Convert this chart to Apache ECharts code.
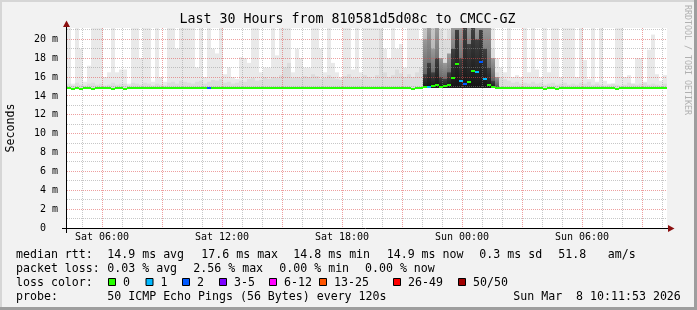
<!DOCTYPE html>
<html><head><meta charset="utf-8">
<script src="https://cdn.jsdelivr.net/npm/echarts@6/dist/echarts.min.js"></script>
<style>html,body{margin:0;padding:0;background:#f2f2f2}#c{width:697px;height:310px}</style>
</head><body><div id="c"></div>
<script>
// ---------------- data (hours since Sat 00:00) ----------------
const startHour = 4.25;        // Sat 04:15
const spanHours = 30;
const bucketHours = 0.2;       // 12 min per smoke column
const smokeFloor = 14.85;
const yMax = 21.2;

// top of the lightest smoke (max ping), ms
const smokeTop = [
 30,15.3,30,19,15.5,17.2,30,30,30,16,
 16.5,30,16.5,16.8,16.8,15.3,30,30,18,30,
 30,15.5,30,16,15.5,30,30,19,30,30,
 30,30,17,30,16,30,19,18.5,30,16.3,
 17,16,15.8,18.1,18,17.5,30,30,16.5,17,
 17,30,18.3,30,30,30,16.5,19,18,17,
 17,30,30,19,16.5,30,17.5,16.5,16,30,
 30,16.8,30,16.5,30,30,30,30,30,19,
 18,30,19,19.5,17,30,30,30,20,30,
 30,30,30,30,30,30,30,30,30,30,
 30,30,30,30,30,30,30,18,17,16.5,
 30,16,16.2,16,30,16.5,30,16.8,16,30,
 16.5,30,30,16,30,30,30,16,30,17.8,
 15.8,30,15.5,30,15.6,15.3,15.3,30,30,16,
 16.2,15.3,18,18,15.5,18.9,20.5,16.3,15.6,16.2
];
// top of second smoke band
const smokeMid = [
 15.3,15.1,15.4,15.2,15.1,15.3,15.4,15.2,15.3,15.1,
 15.2,15.4,15.2,15.3,15.3,15.1,15.4,15.3,15.2,15.4,
 15.3,15.1,15.3,15.2,15.1,15.4,15.5,15.3,15.6,15.5,
 15.4,15.3,15.5,15.6,15.3,15.5,15.7,15.6,15.8,15.4,
 15.5,15.3,15.4,15.6,15.5,15.8,15.9,15.6,15.7,16.0,
 15.8,16.0,15.9,16.2,17.0,17.5,15.9,16.0,15.9,16.1,
 16.0,16.3,16.1,15.8,15.9,16.2,16.0,15.8,15.7,16.1,
 16.3,15.9,16.0,15.8,16.2,16.0,15.8,16.2,21,16.5,
 16.0,16.2,16.8,16.4,16.0,16.3,16.0,16.5,17.0,30,
 30,22,30,21,20,21,30,30,30,30,
 30,30,30,30,30,23,19,16.5,16.0,15.8,
 15.6,15.4,15.5,15.3,15.4,15.3,15.5,15.3,15.4,15.2,
 15.3,15.4,15.2,15.3,15.4,15.2,15.3,15.2,15.4,15.3,
 15.5,15.2,15.3,15.2,15.1,15.2,15.3,15.2,15.1,15.2,
 15.4,15.3,15.2,15.3,15.4,15.2,15.3,15.2,15.1,15.3
];
// top of dark smoke band (0 = none)
const smokeDark = [
 0,0,0,0,0,0,0,0,0,0,
 0,0,0,0,0,0,0,0,0,0,
 0,0,0,0,0,0,0,0,0,0,
 0,0,0,0,0,0,0,0,0,0,
 0,0,0,0,0,0,0,0,0,0,
 0,0,0,0,0,0,0,0,0,0,
 0,0,0,0,0,0,0,0,0,0,
 0,0,0,0,0,0,0,0,0,0,
 0,0,0,0,0,0,0,0,0,20,
 22,19,24,18,17.5,18.5,30,30,24,30,
 30,30,30,30,30,22,18,16,0,0,
 0,0,0,0,0,0,0,0,0,0,
 0,0,0,0,0,0,0,0,0,0,
 0,0,0,0,0,0,0,0,0,0,
 0,0,0,0,0,0,0,0,0,0
];
// top of darkest smoke core (0 = none)
const smokeCore = [
 0,0,0,0,0,0,0,0,0,0,
 0,0,0,0,0,0,0,0,0,0,
 0,0,0,0,0,0,0,0,0,0,
 0,0,0,0,0,0,0,0,0,0,
 0,0,0,0,0,0,0,0,0,0,
 0,0,0,0,0,0,0,0,0,0,
 0,0,0,0,0,0,0,0,0,0,
 0,0,0,0,0,0,0,0,0,0,
 0,0,0,0,0,0,0,0,0,16.3,
 17.5,16.5,18,16,15.8,16.5,19,21,18,22,
 19.5,22,20,21,19,17,15.6,0,0,0,
 0,0,0,0,0,0,0,0,0,0,
 0,0,0,0,0,0,0,0,0,0,
 0,0,0,0,0,0,0,0,0,0,
 0,0,0,0,0,0,0,0,0,0
];
// median rtt, ms
const medianRtt = [
 14.85,14.8,14.85,14.8,14.85,14.85,14.8,14.85,14.9,14.85,
 14.85,14.8,14.85,14.85,14.8,14.85,14.9,14.85,14.85,14.9,
 14.9,14.9,14.9,14.9,14.9,14.9,14.9,14.9,14.9,14.9,
 14.9,14.9,14.9,14.9,14.9,14.9,14.9,14.9,14.9,14.9,
 14.9,14.9,14.9,14.9,14.9,14.9,14.9,14.9,14.9,14.9,
 14.9,14.9,14.9,14.9,14.9,14.9,14.9,14.9,14.9,14.9,
 14.9,14.9,14.9,14.9,14.9,14.9,14.9,14.9,14.9,14.9,
 14.9,14.9,14.9,14.9,14.9,14.9,14.9,14.9,14.9,14.9,
 14.9,14.9,14.9,14.9,14.9,14.9,14.8,14.9,14.9,15.0,
 15.0,15.1,15.2,15.0,15.1,15.2,16.0,17.4,15.6,15.3,
 15.5,16.7,16.6,17.6,15.8,15.2,15.0,14.9,14.9,14.9,
 14.9,14.9,14.9,14.9,14.9,14.9,14.9,14.9,14.85,14.8,
 14.85,14.9,14.8,14.85,14.9,14.9,14.9,14.9,14.9,14.9,
 14.9,14.9,14.9,14.9,14.9,14.9,14.85,14.8,14.85,14.9,
 14.9,14.9,14.9,14.9,14.9,14.9,14.9,14.9,14.9,14.9
];
// loss colour class per column
const lossIdx = [
 0,0,0,0,0,0,0,0,0,0,
 0,0,0,0,0,0,0,0,0,0,
 0,0,0,0,0,0,0,0,0,0,
 0,0,0,0,0,2,0,0,0,0,
 0,0,0,0,0,0,0,0,0,0,
 0,0,0,0,0,0,0,0,0,0,
 0,0,0,0,0,0,0,0,0,0,
 0,0,0,0,0,0,0,0,0,0,
 0,0,0,0,0,0,0,0,0,0,
 1,0,0,0,0,0,0,0,1,2,
 0,0,1,2,1,0,0,0,0,0,
 0,0,0,0,0,0,0,0,0,0,
 0,0,0,0,0,0,0,0,0,0,
 0,0,0,0,0,0,0,0,0,0,
 0,0,0,0,0,0,0,0,0,0
];
const lossColors = ['#26ff00','#00b8ff','#0059ff','#7e00ff','#ff00ff','#ff5500','#ff0000','#a10000'];
const lossLabels = ['0','1','2','3-5','6-12','13-25','26-49','50/50'];

const yTickValues = [0,2,4,6,8,10,12,14,16,18,20];
const gridMs = [1,2,3,4,5,6,7,8,9,10,11,12,13,14,15,16,17,18,19,20,21];
const gridHours = [5,6,7,8,9,10,11,12,13,14,15,16,17,18,19,20,21,22,23,24,25,26,27,28,29,30,31,32,33,34];
const xTickHours = [6,12,18,24,30];
const xTickLabels = ['Sat 06:00','Sat 12:00','Sat 18:00','Sun 00:00','Sun 06:00'];

const titleText = 'Last 30 Hours from 810581d5d08c to CMCC-GZ';
const yName = 'Seconds';
const sideText = 'RRDTOOL / TOBI OETIKER';
const rttLabel = 'median rtt:';
const rttStats = ['14.9 ms avg','17.6 ms max','14.8 ms min','14.9 ms now','0.3 ms sd','51.8','am/s'];
const lossLabel = 'packet loss:';
const lossStats = ['0.03 % avg','2.56 % max','0.00 % min','0.00 % now'];
const colorLabel = 'loss color:';
const probeLabel = 'probe:';
const probeText = '50 ICMP Echo Pings (56 Bytes) every 120s';
const stampText = 'Sun Mar  8 10:11:53 2026';

// ---------------- build ----------------
const MONO = '"DejaVu Sans Mono", monospace';
const smokeData = smokeTop.map((v, i) => [startHour + i * bucketHours, v, smokeMid[i], smokeDark[i], smokeCore[i]]);
const medData = medianRtt.map((v, i) => [startHour + i * bucketHours, v, lossIdx[i]]);

function grad(top, bottom) {
  return new echarts.graphic.LinearGradient(0, 0, 0, 1, [{offset: 0, color: top}, {offset: 1, color: bottom}]);
}
const bandFills = [
  () => '#e9e9e9',
  () => '#dcdcdc',
  () => grad('#9a9a9a', '#505050'),
  () => grad('#404040', '#141414')
];
function smokeItem(params, api) {
  const x0 = api.coord([api.value(0), 0])[0];
  const x1 = api.coord([api.value(0) + bucketHours, 0])[0];
  const yb = api.coord([0, smokeFloor])[1];
  const children = [];
  for (let k = 1; k <= 4; k++) {
    const v = api.value(k);
    if (!(v > smokeFloor)) continue;
    let fill = bandFills[k - 1]();
    if (k === 2 && v >= yMax) fill = grad('#c8c8c8', '#9c9c9c');
    const yt = api.coord([0, Math.min(v, yMax)])[1];
    children.push({type: 'rect', shape: {x: x0, y: yt, width: x1 - x0, height: yb - yt}, style: {fill}});
  }
  return {type: 'group', children};
}
function medItem(params, api) {
  const x0 = api.coord([api.value(0), 0])[0];
  const x1 = api.coord([api.value(0) + bucketHours, 0])[0];
  const y = api.coord([0, api.value(1)])[1];
  return {type: 'rect', shape: {x: x0, y: Math.floor(y), width: x1 - x0, height: 2},
          style: {fill: lossColors[api.value(2)]}};
}
function vGridItem(params, api) {
  const h = api.value(0);
  const x = Math.floor(api.coord([h, 0])[0]) + 0.5;
  const yb = api.coord([h, 0])[1], yt = api.coord([h, yMax])[1];
  return {type: 'line', shape: {x1: x, y1: yt, x2: x, y2: yb},
          style: {stroke: h % 3 === 0 ? 'rgba(222,80,80,0.55)' : 'rgba(143,143,143,0.5)', lineWidth: 1, lineDash: [1, 1]}};
}
function hGridItem(params, api) {
  const v = api.value(1);
  const y = Math.floor(api.coord([startHour, v])[1]) + 0.5;
  const xl = api.coord([startHour, v])[0], xr = api.coord([startHour + spanHours, v])[0];
  return {type: 'line', shape: {x1: xl, y1: y, x2: xr, y2: y},
          style: {stroke: v % 2 === 0 ? 'rgba(222,80,80,0.55)' : 'rgba(143,143,143,0.5)', lineWidth: 1, lineDash: [1, 1]}};
}

function txt(text, x, y, size, opts) {
  opts = opts || {};
  return {type: 'text', x, y, rotation: opts.rotation || 0, silent: true, z: 100,
    style: {text, fill: opts.color || '#000', font: size + 'px ' + MONO,
      align: opts.align || 'left', textAlign: opts.align || 'left',
      verticalAlign: 'middle', textVerticalAlign: 'middle'}};
}

const graphics = [];
// frame shading
graphics.push({type: 'rect', shape: {x: 0, y: 0, width: 697, height: 2}, style: {fill: '#d6d6d6'}, silent: true});
graphics.push({type: 'rect', shape: {x: 0, y: 0, width: 2, height: 310}, style: {fill: '#d6d6d6'}, silent: true});
graphics.push({type: 'rect', shape: {x: 694, y: 0, width: 3, height: 310}, style: {fill: '#9e9e9e'}, silent: true});
graphics.push({type: 'rect', shape: {x: 0, y: 307, width: 697, height: 3}, style: {fill: '#9e9e9e'}, silent: true});
// axes lines + arrows
graphics.push({type: 'line', shape: {x1: 62, y1: 228.5, x2: 669, y2: 228.5}, style: {stroke: '#000', lineWidth: 1}, z: 50, silent: true});
graphics.push({type: 'line', shape: {x1: 66.5, y1: 233, x2: 66.5, y2: 25}, style: {stroke: '#000', lineWidth: 1}, z: 50, silent: true});
graphics.push({type: 'polygon', shape: {points: [[668, 225], [674.5, 228.5], [668, 232]]}, style: {fill: '#8b1010'}, z: 51, silent: true});
graphics.push({type: 'polygon', shape: {points: [[63, 27], [66.5, 20.5], [70, 27]]}, style: {fill: '#8b1010'}, z: 51, silent: true});
// title, y-name, side text
graphics.push(txt(titleText, 347.5, 19.5, 13.3, {align: 'center'}));
graphics.push(txt(yName, 11, 128, 11.6, {align: 'center', rotation: Math.PI / 2}));
graphics.push(txt(sideText, 687, 60, 8.3, {align: 'center', rotation: -Math.PI / 2, color: '#b0b0b0'}));
// legend
const L1 = 254.5, L2 = 268.5, L3 = 282.5, L4 = 296.5, FS = 11.6;
graphics.push(txt(rttLabel, 16, L1, FS));
[107.3, 201.3, 293.3, 386.7, 479.3, 558.3, 607.7].forEach((x, i) => graphics.push(txt(rttStats[i], x, L1, FS)));
graphics.push(txt(lossLabel, 16, L2, FS));
[107.3, 193.3, 279.3, 365].forEach((x, i) => graphics.push(txt(lossStats[i], x, L2, FS)));
graphics.push(txt(colorLabel, 16, L3, FS));
[108, 145.5, 182, 219, 269, 319, 393, 458].forEach((x, i) => {
  graphics.push({type: 'rect', shape: {x: x + 0.5, y: 278.5, width: 7, height: 7},
    style: {fill: lossColors[i], stroke: '#000', lineWidth: 1}, silent: true, z: 100});
  graphics.push(txt(lossLabels[i], x + 15, L3, FS));
});
graphics.push(txt(probeLabel, 16, L4, FS));
graphics.push(txt(probeText, 107.3, L4, FS));
graphics.push(txt(stampText, 513.3, L4, FS));

const chart = echarts.init(document.getElementById('c'), null, {renderer: 'canvas'});
chart.setOption({
  animation: false,
  backgroundColor: '#f2f2f2',
  grid: {left: 67, top: 28, width: 600, height: 200, show: true, backgroundColor: '#ffffff', borderWidth: 0, containLabel: false, outerBoundsMode: 'none'},
  xAxis: {type: 'value', min: startHour, max: startHour + spanHours,
    axisLine: {show: false}, axisTick: {show: false}, splitLine: {show: false},
    axisLabel: {customValues: xTickHours, formatter: v => { const k = xTickHours.indexOf(v); return k >= 0 ? xTickLabels[k] : ''; },
      fontFamily: MONO, fontSize: 10, color: '#000', margin: 4}},
  yAxis: {type: 'value', min: 0, max: yMax, interval: 2,
    axisLine: {show: false}, axisTick: {show: false}, splitLine: {show: false},
    axisLabel: {formatter: v => v === 0 ? '0  ' : (yTickValues.indexOf(v) >= 0 ? v + ' m' : ''),
      fontFamily: MONO, fontSize: 10, color: '#000', margin: 9}},
  graphic: graphics,
  series: [
    {type: 'custom', name: 'smoke', renderItem: smokeItem, data: smokeData, z: 1, silent: true, clip: true},
    {type: 'custom', name: 'vgrid', renderItem: vGridItem, data: gridHours.map(h => [h, 0]), z: 2, silent: true},
    {type: 'custom', name: 'hgrid', renderItem: hGridItem, data: gridMs.map(v => [startHour, v]), z: 2, silent: true},
    {type: 'custom', name: 'median', renderItem: medItem, data: medData, z: 3, silent: true, clip: true}
  ]
});
</script></body></html>
